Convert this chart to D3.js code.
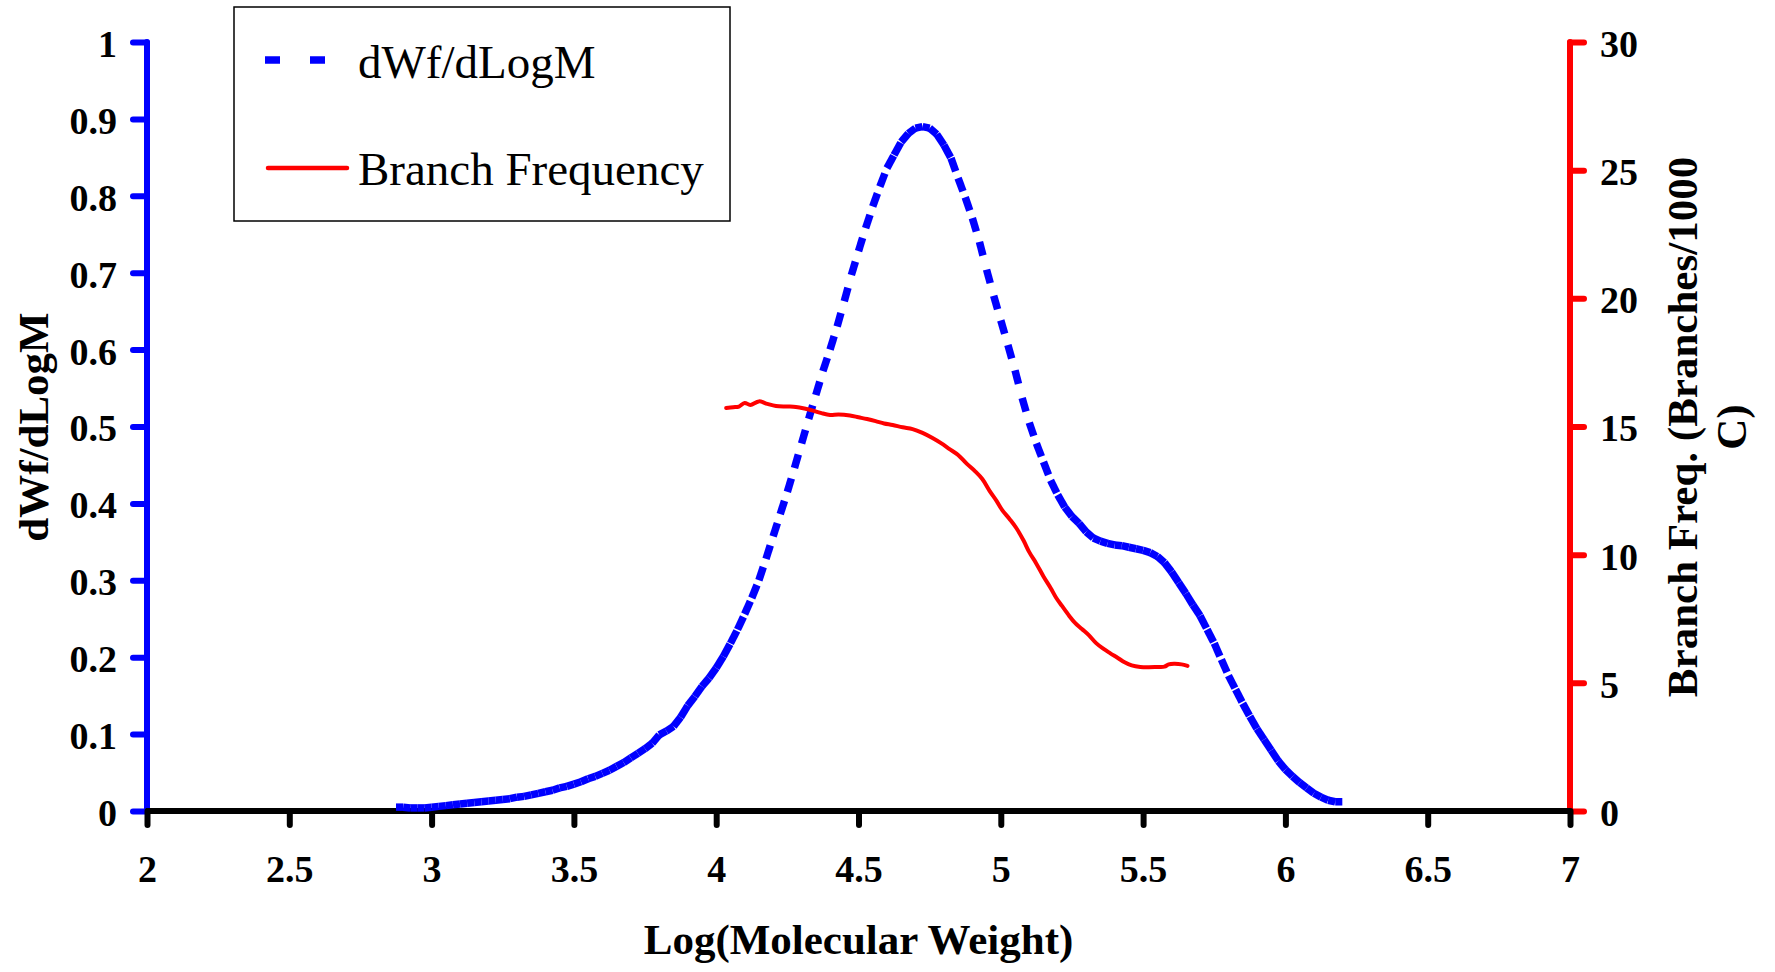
<!DOCTYPE html>
<html>
<head>
<meta charset="utf-8">
<script src="https://cdn.jsdelivr.net/npm/d3@7"></script>
<style>
  body { margin: 0; background: #fff; }
  svg { display: block; }
  text { font-family: "Times New Roman", "Liberation Serif", serif; }
</style>
</head>
<body>
<div id="chart"></div>
<script>
// dWf/dLogM curve (left axis)
var blueX = [2.875, 2.900, 2.925, 2.950, 2.975, 3.000, 3.025, 3.050, 3.075, 3.100,
  3.125, 3.150, 3.175, 3.200, 3.225, 3.250, 3.275, 3.300, 3.325, 3.350,
  3.375, 3.400, 3.425, 3.450, 3.475, 3.500, 3.525, 3.550, 3.575, 3.600,
  3.625, 3.650, 3.675, 3.700, 3.725, 3.750, 3.775, 3.800, 3.825, 3.850,
  3.875, 3.900, 3.925, 3.950, 3.975, 4.000, 4.025, 4.050, 4.075, 4.100,
  4.125, 4.150, 4.175, 4.200, 4.225, 4.250, 4.275, 4.300, 4.325, 4.350,
  4.375, 4.400, 4.425, 4.450, 4.475, 4.500, 4.525, 4.550, 4.575, 4.600,
  4.625, 4.650, 4.675, 4.700, 4.725, 4.750, 4.775, 4.800, 4.825, 4.850,
  4.875, 4.900, 4.925, 4.950, 4.975, 5.000, 5.025, 5.050, 5.075, 5.100,
  5.125, 5.150, 5.175, 5.200, 5.225, 5.250, 5.275, 5.300, 5.325, 5.350,
  5.375, 5.400, 5.425, 5.450, 5.475, 5.500, 5.525, 5.550, 5.575, 5.600,
  5.625, 5.650, 5.675, 5.700, 5.725, 5.750, 5.775, 5.800, 5.825, 5.850,
  5.875, 5.900, 5.925, 5.950, 5.975, 6.000, 6.025, 6.050, 6.075, 6.100,
  6.125, 6.150, 6.175, 6.200];
var blueY = [0.005, 0.005, 0.004, 0.004, 0.004, 0.005, 0.006, 0.007, 0.008, 0.009,
  0.010, 0.011, 0.012, 0.013, 0.014, 0.015, 0.016, 0.018, 0.019, 0.021,
  0.023, 0.025, 0.027, 0.030, 0.032, 0.035, 0.038, 0.042, 0.045, 0.049,
  0.053, 0.058, 0.063, 0.069, 0.075, 0.081, 0.088, 0.099, 0.104, 0.110,
  0.122, 0.137, 0.149, 0.162, 0.173, 0.186, 0.201, 0.218, 0.236, 0.256,
  0.277, 0.300, 0.328, 0.357, 0.386, 0.415, 0.446, 0.478, 0.510, 0.541,
  0.572, 0.600, 0.630, 0.663, 0.697, 0.728, 0.758, 0.786, 0.812, 0.836,
  0.853, 0.870, 0.881, 0.888, 0.890, 0.888, 0.880, 0.866, 0.849, 0.823,
  0.798, 0.771, 0.740, 0.704, 0.670, 0.638, 0.606, 0.573, 0.537, 0.505,
  0.478, 0.454, 0.430, 0.411, 0.395, 0.383, 0.374, 0.363, 0.355, 0.351,
  0.348, 0.346, 0.345, 0.343, 0.341, 0.339, 0.336, 0.331, 0.323, 0.311,
  0.297, 0.283, 0.268, 0.254, 0.236, 0.218, 0.197, 0.176, 0.158, 0.140,
  0.123, 0.107, 0.093, 0.079, 0.065, 0.054, 0.045, 0.037, 0.030, 0.023,
  0.018, 0.014, 0.012, 0.012];

// Branch frequency curve (right axis)
var redX = [4.035, 4.06, 4.08, 4.10, 4.12, 4.15, 4.18, 4.21, 4.25, 4.28,
  4.31, 4.34, 4.37, 4.40, 4.43, 4.47, 4.50, 4.53, 4.56, 4.59,
  4.62, 4.655, 4.69, 4.725, 4.76, 4.79, 4.82, 4.85, 4.88, 4.91,
  4.935, 4.96, 4.985, 5.005, 5.03, 5.055, 5.08, 5.10, 5.125, 5.15,
  5.175, 5.195, 5.215, 5.24, 5.26, 5.285, 5.31, 5.335, 5.36, 5.385,
  5.41, 5.435, 5.46, 5.49, 5.52, 5.55, 5.575, 5.59, 5.61, 5.635, 5.656];
var redY = [15.72, 15.75, 15.78, 15.92, 15.84, 15.98, 15.88, 15.80, 15.78, 15.76,
  15.70, 15.62, 15.52, 15.45, 15.47, 15.43, 15.36, 15.29, 15.21, 15.12,
  15.06, 14.97, 14.90, 14.75, 14.55, 14.35, 14.12, 13.89, 13.55, 13.25,
  12.95, 12.50, 12.10, 11.74, 11.40, 11.03, 10.55, 10.10, 9.65, 9.15,
  8.70, 8.31, 8.00, 7.62, 7.35, 7.10, 6.85, 6.55, 6.33, 6.15,
  5.98, 5.80, 5.68, 5.62, 5.61, 5.62, 5.63, 5.72, 5.74, 5.72, 5.66];

var xTicks = [2, 2.5, 3, 3.5, 4, 4.5, 5, 5.5, 6, 6.5, 7];
var leftTicks = [0, 0.1, 0.2, 0.3, 0.4, 0.5, 0.6, 0.7, 0.8, 0.9, 1];
var rightTicks = [0, 5, 10, 15, 20, 25, 30];

var W = 1775, H = 972;
var plot = {left: 147, right: 1570, top: 42, bottom: 811};

var svg = d3.select("#chart").append("svg")
  .attr("width", W).attr("height", H);

svg.append("rect").attr("width", W).attr("height", H).attr("fill", "#fff");

var x = d3.scaleLinear().domain([2, 7]).range([plot.left, plot.right]);
var yL = d3.scaleLinear().domain([0, 1]).range([plot.bottom, plot.top]);
var yR = d3.scaleLinear().domain([0, 30]).range([plot.bottom, plot.top]);

// left axis (blue)
var leftAxis = d3.axisLeft(yL).tickValues(leftTicks).tickSize(14).tickPadding(16)
  .tickFormat(function(d) { return d === 0 || d === 1 ? String(d) : d3.format(".1f")(d); });
var gL = svg.append("g").attr("transform", "translate(" + plot.left + ",0)").call(leftAxis);
gL.select(".domain").remove();
gL.append("line").attr("x1", 0).attr("x2", 0).attr("y1", plot.top).attr("y2", plot.bottom);
gL.selectAll("line").attr("stroke", "#0000ff").attr("stroke-width", 6).attr("stroke-linecap", "round");

// right axis (red)
var rightAxis = d3.axisRight(yR).tickValues(rightTicks).tickSize(14).tickPadding(16);
var gR = svg.append("g").attr("transform", "translate(" + plot.right + ",0)").call(rightAxis);
gR.select(".domain").remove();
gR.append("line").attr("x1", 0).attr("x2", 0).attr("y1", plot.top).attr("y2", plot.bottom);
gR.selectAll("line").attr("stroke", "#ff0000").attr("stroke-width", 6).attr("stroke-linecap", "round");

// x axis (black)
var xAxis = d3.axisBottom(x).tickValues(xTicks).tickSize(14).tickPadding(30)
  .tickFormat(function(d) { return String(d); });
var gX = svg.append("g").attr("transform", "translate(0," + plot.bottom + ")").call(xAxis);
gX.select(".domain").remove();
gX.append("line").attr("x1", plot.left - 1).attr("x2", plot.right).attr("y1", 0).attr("y2", 0)
  .attr("stroke-linecap", "butt");
gX.selectAll(".tick line").attr("stroke-linecap", "round");
gX.selectAll("line").attr("stroke", "#000").attr("stroke-width", 6);

svg.selectAll(".tick text")
  .style("font-family", "'Times New Roman', 'Liberation Serif', serif")
  .style("font-size", "38px").style("font-weight", "bold").attr("fill", "#000");
gL.selectAll(".tick text").attr("dy", "0.38em");
gR.selectAll(".tick text").attr("dy", "0.38em");
gX.selectAll(".tick text").attr("dy", "0.71em");

// dWf/dLogM: each segment restarts the dash pattern
var blue = blueX.map(function(v, i) { return {x: v, y: blueY[i]}; });
var segLine = d3.line().x(function(d) { return x(d.x); }).y(function(d) { return yL(d.y); });
svg.append("g").selectAll("path")
  .data(d3.pairs(blue))
  .enter().append("path")
  .attr("d", function(p) { return segLine(p); })
  .attr("fill", "none")
  .attr("stroke", "#0000ff")
  .attr("stroke-width", 7.5)
  .attr("stroke-dasharray", "14,30");

// branch frequency
var red = redX.map(function(v, i) { return {x: v, y: redY[i]}; });
svg.append("path")
  .attr("d", d3.line().x(function(d) { return x(d.x); }).y(function(d) { return yR(d.y); })
    .curve(d3.curveCatmullRom)(red))
  .attr("fill", "none")
  .attr("stroke", "#ff0000")
  .attr("stroke-width", 4)
  .attr("stroke-linecap", "round")
  .attr("stroke-linejoin", "round");

// axis titles
var titleStyle = function(sel) {
  sel.style("font-size", "43px").style("font-weight", "bold").attr("text-anchor", "middle").attr("fill", "#000");
};
svg.append("text").attr("x", (plot.left + plot.right) / 2).attr("y", 954)
  .text("Log(Molecular Weight)").call(titleStyle);
svg.append("text").attr("transform", "translate(48,427) rotate(-90)")
  .text("dWf/dLogM").call(titleStyle);
svg.append("text").attr("transform", "translate(1697,427) rotate(-90)")
  .text("Branch Freq. (Branches/1000").call(titleStyle);
svg.append("text").attr("transform", "translate(1746,427) rotate(-90)")
  .text("C)").call(titleStyle);

// legend
var legend = svg.append("g").attr("class", "legend");
legend.append("rect")
  .attr("x", 234).attr("y", 7).attr("width", 496).attr("height", 214)
  .attr("fill", "#fff").attr("stroke", "#000").attr("stroke-width", 1.5);
legend.append("line")
  .attr("x1", 265).attr("x2", 325).attr("y1", 60).attr("y2", 60)
  .attr("stroke", "#0000ff").attr("stroke-width", 7.5).attr("stroke-dasharray", "15,30");
legend.append("line")
  .attr("x1", 268).attr("x2", 347).attr("y1", 168).attr("y2", 168)
  .attr("stroke", "#ff0000").attr("stroke-width", 4.5).attr("stroke-linecap", "round");
legend.append("text").attr("x", 358).attr("y", 78)
  .style("font-size", "47px").attr("fill", "#000").text("dWf/dLogM");
legend.append("text").attr("x", 358).attr("y", 185)
  .style("font-size", "47px").attr("fill", "#000").text("Branch Frequency");
</script>
</body>
</html>
